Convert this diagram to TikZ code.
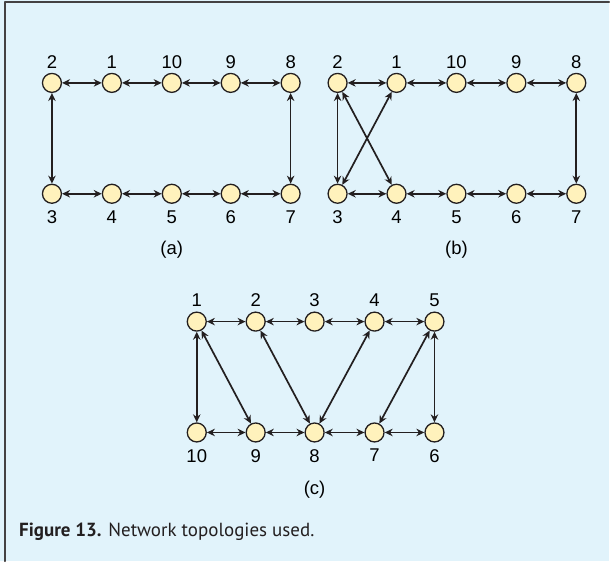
\documentclass[tikz,border=0pt]{standalone}
\usepackage{fontspec}
\setmainfont{Liberation Sans}
\newfontfamily\capfont{PT Sans}
\usetikzlibrary{arrows.meta}
\definecolor{bgblue}{HTML}{E1F3FB}
\definecolor{nodeyel}{HTML}{FFF2BC}
\definecolor{ink}{HTML}{231F20}
\tikzset{
	nd/.style={circle, draw=ink, fill=nodeyel, line width=1.3pt, minimum size=19pt, inner sep=0pt},
	up/.style={label={[label distance=1pt]above:#1}},
	dn/.style={label={[label distance=3pt]below:#1}},
	lnk/.style={<->, draw=ink, line width=1.7pt},
}
\begin{document}
\begin{tikzpicture}[x=1pt, y=-1pt, font=\fontsize{18.5}{18.5}\selectfont, line join=round, line cap=round, >={Stealth[length=8pt,width=7.5pt]}]
	\fill[bgblue] (0,0) rectangle (610,562);
	\draw[ink!85, line width=1.5pt] (5,562) -- (5,2) -- (610,2);
	
	% (a)
	\node[nd, up=2] (a2) at (52,83) {};
	\node[nd, up=1] (a1) at (112,83) {};
	\node[nd, up=10] (a10) at (172,83) {};
	\node[nd, up=9] (a9) at (231,83) {};
	\node[nd, up=8] (a8) at (291,83) {};
	\node[nd, dn=3] (a3) at (52,194) {};
	\node[nd, dn=4] (a4) at (112,194) {};
	\node[nd, dn=5] (a5) at (172,194) {};
	\node[nd, dn=6] (a6) at (231,194) {};
	\node[nd, dn=7] (a7) at (291,194) {};
	\draw[lnk] (a2)--(a1); \draw[lnk] (a1)--(a10); \draw[lnk] (a10)--(a9); \draw[lnk] (a9)--(a8);
	\draw[lnk] (a8)--(a7); \draw[lnk] (a7)--(a6); \draw[lnk] (a6)--(a5); \draw[lnk] (a5)--(a4);
	\draw[lnk] (a4)--(a3); \draw[lnk] (a3)--(a2);
	\node (capa) at (172,250) {(a)};
	
	% (b)
	\node[nd, up=2] (b2) at (338,83) {};
	\node[nd, up=1] (b1) at (397,83) {};
	\node[nd, up=10] (b10) at (457,83) {};
	\node[nd, up=9] (b9) at (517,83) {};
	\node[nd, up=8] (b8) at (577,83) {};
	\node[nd, dn=3] (b3) at (338,194) {};
	\node[nd, dn=4] (b4) at (397,194) {};
	\node[nd, dn=5] (b5) at (457,194) {};
	\node[nd, dn=6] (b6) at (517,194) {};
	\node[nd, dn=7] (b7) at (577,194) {};
	\draw[lnk] (b2)--(b1); \draw[lnk] (b1)--(b10); \draw[lnk] (b10)--(b9); \draw[lnk] (b9)--(b8);
	\draw[lnk] (b8)--(b7); \draw[lnk] (b7)--(b6); \draw[lnk] (b6)--(b5); \draw[lnk] (b5)--(b4);
	\draw[lnk] (b4)--(b3); \draw[lnk] (b3)--(b2);
	\draw[lnk] (b2)--(b4); \draw[lnk] (b1)--(b3);
	\node (capb) at (457,250) {(b)};
	
	% (c)
	\node[nd, up=1] (c1) at (197,322) {};
	\node[nd, up=2] (c2) at (256,322) {};
	\node[nd, up=3] (c3) at (315,322) {};
	\node[nd, up=4] (c4) at (375,322) {};
	\node[nd, up=5] (c5) at (435,322) {};
	\node[nd, dn=10] (c10) at (197,433) {};
	\node[nd, dn=9] (c9) at (256,433) {};
	\node[nd, dn=8] (c8) at (315,433) {};
	\node[nd, dn=7] (c7) at (375,433) {};
	\node[nd, dn=6] (c6) at (435,433) {};
	\draw[lnk] (c1)--(c2); \draw[lnk] (c2)--(c3); \draw[lnk] (c3)--(c4); \draw[lnk] (c4)--(c5);
	\draw[lnk] (c5)--(c6); \draw[lnk] (c6)--(c7); \draw[lnk] (c7)--(c8); \draw[lnk] (c8)--(c9);
	\draw[lnk] (c9)--(c10); \draw[lnk] (c10)--(c1);
	\draw[lnk] (c1)--(c9); \draw[lnk] (c2)--(c8); \draw[lnk] (c4)--(c8); \draw[lnk] (c5)--(c7);
	\node (capc) at (315,490) {(c)};
	
	\node[anchor=base west, inner sep=0pt, text=ink, font=\capfont\fontsize{19}{19}\selectfont] (fig) at (19,537) {\textbf{Figure 13.} Network topologies used.};
\end{tikzpicture}
\end{document}
